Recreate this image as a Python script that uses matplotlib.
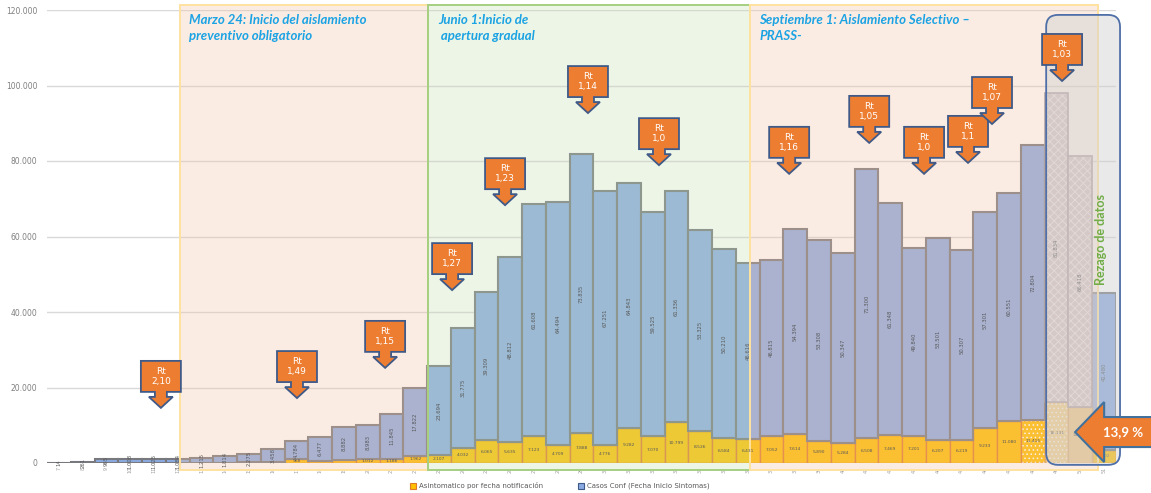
import matplotlib
matplotlib.use("Agg")
import matplotlib.pyplot as plt
from matplotlib.patches import Polygon, Rectangle, FancyBboxPatch
from matplotlib.transforms import ScaledTranslation
import numpy as np

# ---------------- data ----------------
semanas = ["7", "8", "9", "10", "11", "12", "13", "14", "15", "16", "17", "18", "19", "20", "21",
           "22", "23", "24", "25", "26", "27", "28", "29", "30", "31", "32", "33", "34", "35", "36",
           "37", "38", "39", "40", "41", "42", "43", "44", "45", "46", "47", "48", "49", "50", "51"]
sintomaticos = [14, 261, 965, 1008, 1025, 1084, 1215, 1814, 2275, 3458, 4784, 6477, 8882, 8983, 11845,
                17822, 23694, 31775, 39309, 48812, 61608, 64494, 73835, 67251, 64843, 59525, 61336,
                53325, 50210, 46616, 46815, 54394, 53308, 50347, 71300, 61348, 49840, 53501, 50307,
                57301, 60551, 72804, 81834, 66418, 41480]
asintomaticos = [0, 0, 0, 0, 0, 0, 45, 98, 186, 352, 968, 512, 781, 1012, 1186,
                 1962, 2107, 4032, 6065, 5635, 7123, 4709, 7888, 4776, 9282, 7070, 10799,
                 8526, 6584, 6431, 7052, 7614, 5890, 5284, 6508, 7469, 7201, 6207, 6219,
                 9233, 11080, 11415, 16131, 14912, 3502]
rt_textos = ["2,10", "1,49", "1,15", "1,27", "1,23", "1,14", "1,0", "1,16", "1,05", "1,0", "1,1", "1,07", "1,03"]
rt_x = [4.29, 10.02, 13.73, 16.55, 18.78, 22.27, 25.26, 30.74, 34.11, 36.42, 38.27, 39.28, 42.23]
rt_y = [14600, 17200, 25200, 45800, 68300, 92700, 78900, 76600, 84800, 76600, 79500, 89800, 101200]
porcentaje_rezago = "13,9 %"

# ---------------- figure ----------------
W, H = 1151, 493
fig = plt.figure(figsize=(W / 100, H / 100), dpi=100)
ax = fig.add_axes([47.1 / W, 30 / H, 1068.9 / W, 453 / H])
ax.set_xlim(-0.5, 44.5)
ax.set_ylim(0, 120000)
for s in ax.spines.values():
    s.set_visible(False)

x = np.arange(len(sintomaticos))
sint = np.array(sintomaticos)
asin = np.array(asintomaticos)


def fmt(v):
    return f"{v:,}".replace(",", ".")


# grid
ax.set_yticks(np.arange(0, 120001, 20000))
ax.set_yticklabels([fmt(v) for v in range(0, 120001, 20000)], fontsize=5.5, color="#7f7f7f")
ax.yaxis.grid(True, color="#d9d9d9", lw=1)
ax.set_axisbelow(True)
ax.tick_params(axis="y", length=0, pad=7)
ax.set_xticks(x)
ax.set_xticklabels(semanas, rotation=90, fontsize=3.5, color="#a0a0a0")
ax.tick_params(axis="x", length=0, pad=3)

yellow = "#ffc000"
blue = "#8aabe2"
normal = np.ones(len(x), bool)
normal[41:44] = False

# normal bars
ax.bar(x[normal], asin[normal], width=1.0, color=yellow, edgecolor="#e07a2a", lw=1.0, zorder=2)
ax.bar(x[normal], sint[normal], bottom=asin[normal], width=1.0, color=blue, edgecolor="#77797f",
       lw=1.5, zorder=2)

plt.rcParams["hatch.linewidth"] = 0.6
# bar 41: dotted yellow
i = 41
ax.bar(x[i], asin[i], width=1.0, color=yellow, edgecolor="none", lw=0, zorder=2)
ax.bar(x[i], asin[i], width=1.0, color="none", edgecolor="white", hatch="....", lw=0, zorder=2)
ax.bar(x[i], asin[i], width=1.0, color="none", edgecolor="#e07a2a", lw=1.0, zorder=2)
ax.bar(x[i], sint[i], bottom=asin[i], width=1.0, color=blue, edgecolor="#77797f", lw=1.5, zorder=2)
# bars 42-43: data lag, patterned
for i, yc, hy in [(42, "#f7d27a", "...."), (43, "#f0c878", None)]:
    ax.bar(x[i], asin[i], width=1.0, color=yc, edgecolor="none", lw=0, zorder=2)
    if hy:
        ax.bar(x[i], asin[i], width=1.0, color="none", edgecolor="white", hatch=hy, lw=0, zorder=2)
    ax.bar(x[i], asin[i], width=1.0, color="none", edgecolor="#d9a060", lw=1.0, zorder=2)
    ax.bar(x[i], sint[i], bottom=asin[i], width=1.0, color="#cfc6cf", edgecolor="none", lw=0, zorder=2)
    ax.bar(x[i], sint[i], bottom=asin[i], width=1.0, color="none", edgecolor="#f2eef2",
           hatch="xxxx", lw=0, zorder=2)
    ax.bar(x[i], sint[i], bottom=asin[i], width=1.0, color="none", edgecolor="#a09aa6",
           lw=1.2, zorder=2)

# regions (overlays)
y0, y1 = -1850, 121300
regions = [(5.09, 15.54, (245/255, 195/255, 165/255), "#ffe2a0"),
           (15.54, 29.1, (198/255, 222/255, 178/255), "#a5cf80"),
           (29.1, 43.75, (245/255, 195/255, 165/255), "#ffe2a0")]
for xa, xb, fc, ec in regions:
    ax.add_patch(Rectangle((xa, y0), xb - xa, y1 - y0, facecolor=fc, alpha=0.3, edgecolor="none",
                           zorder=3, clip_on=False))
for xa, xb, fc, ec in regions:
    ax.add_patch(Rectangle((xa, y0), xb - xa, y1 - y0, facecolor="none", edgecolor=ec, lw=1.4,
                           zorder=3.1, clip_on=False))

# data labels
for i in range(len(x)):
    ax.text(x[i], asin[i] + sint[i] / 2, fmt(int(sint[i])), rotation=90, ha="center", va="center",
            fontsize=3.8, color="#595959", zorder=4, clip_on=False)
    if asin[i] >= 900:
        ax.text(x[i], asin[i] / 2, fmt(int(asin[i])), ha="center", va="center",
                fontsize=3.2, color="#595959", zorder=4)

# region titles
tcol = "#1ca3e3"
tkw = dict(fontsize=9.5, color=tcol, fontweight="bold", style="italic", family="Lato",
           va="top", ha="left", zorder=6, linespacing=1.45)
ax.text(5.47, 119000, "Marzo 24: Inicio del aislamiento\npreventivo obligatorio", **tkw)
ax.text(15.96, 119000, "Junio 1:Inicio de\n apertura gradual", **tkw)
ax.text(29.47, 119000, "Septiembre 1: Aislamiento Selectivo –\nPRASS-", **tkw)

# rezago box
ax.add_patch(FancyBboxPatch((41.56, -500), 44.67 - 41.56, 118700 + 500,
                            boxstyle="round,pad=0,rounding_size=0.5", mutation_aspect=6291,
                            facecolor="#d0d0d0", alpha=0.45, edgecolor="none", zorder=5, clip_on=False))
ax.add_patch(FancyBboxPatch((41.56, -500), 44.67 - 41.56, 118700 + 500,
                            boxstyle="round,pad=0,rounding_size=0.5", mutation_aspect=6291,
                            facecolor="none", edgecolor="#4e6fa8", lw=1.3, zorder=5.1, clip_on=False))
ax.text(43.87, 59100, "Rezago de datos", rotation=90, ha="center", va="center", fontsize=9,
        color="#70ad47", fontweight="bold", family="Lato", zorder=6)

P = 1 / 100.0


def callout(xd, yd, txt):
    tr = fig.dpi_scale_trans + ScaledTranslation(xd, yd, ax.transData)
    pts = [(0, 0), (-12, 11), (-6, 11), (-6, 16), (-20, 16), (-20, 47), (20, 47), (20, 16),
           (6, 16), (6, 11), (12, 11)]
    ax.add_artist(Polygon([(a * P, b * P) for a, b in pts], closed=True, transform=tr,
                          facecolor="#ed7d31", edgecolor="#3f5a88", lw=1.3, zorder=8, clip_on=False))
    ax.annotate("Rt\n" + txt, xy=(xd, yd), xytext=(0, 31.5 * 0.72), textcoords="offset points",
                ha="center", va="center", fontsize=6.5, color="white", zorder=9,
                linespacing=1.2, annotation_clip=False)


for xd, yd, t in zip(rt_x, rt_y, rt_textos):
    callout(xd, yd, t)

# percentage arrow
xd, yd = 42.78, 8200
tr = fig.dpi_scale_trans + ScaledTranslation(xd, yd, ax.transData)
pts = [(0, 0), (29, 30), (29, 15), (82, 15), (82, -15), (29, -15), (29, -30)]
ax.add_artist(Polygon([(a * P, b * P) for a, b in pts], closed=True, transform=tr,
                      facecolor="#ed7d31", edgecolor="#41719c", lw=1.5, zorder=8, clip_on=False))
ax.annotate(porcentaje_rezago, xy=(xd, yd), xytext=(48 * 0.72, 0), textcoords="offset points",
            ha="center", va="center", fontsize=9.5, color="white", fontweight="bold",
            family="Lato", zorder=9, annotation_clip=False)

# legend
lx = [410, 578]
labels = ["Asintomatico por fecha notificación", "Casos Conf (Fecha Inicio Sintomas)"]
fcs = [yellow, blue]
ecs = ["#e07a2a", "#3f5a88"]
for px, lab, fc, ec in zip(lx, labels, fcs, ecs):
    fig.add_artist(Rectangle((px / W, 4.5 / H), 6 / W, 6 / H, transform=fig.transFigure,
                             facecolor=fc, edgecolor=ec, lw=0.8))
    fig.text((px + 9) / W, 7.5 / H, lab, fontsize=5, color="#595959", va="center", ha="left")

ax.set_xlim(-0.5, 44.5)
ax.set_ylim(0, 120000)
fig.savefig("out.png", dpi=100)
